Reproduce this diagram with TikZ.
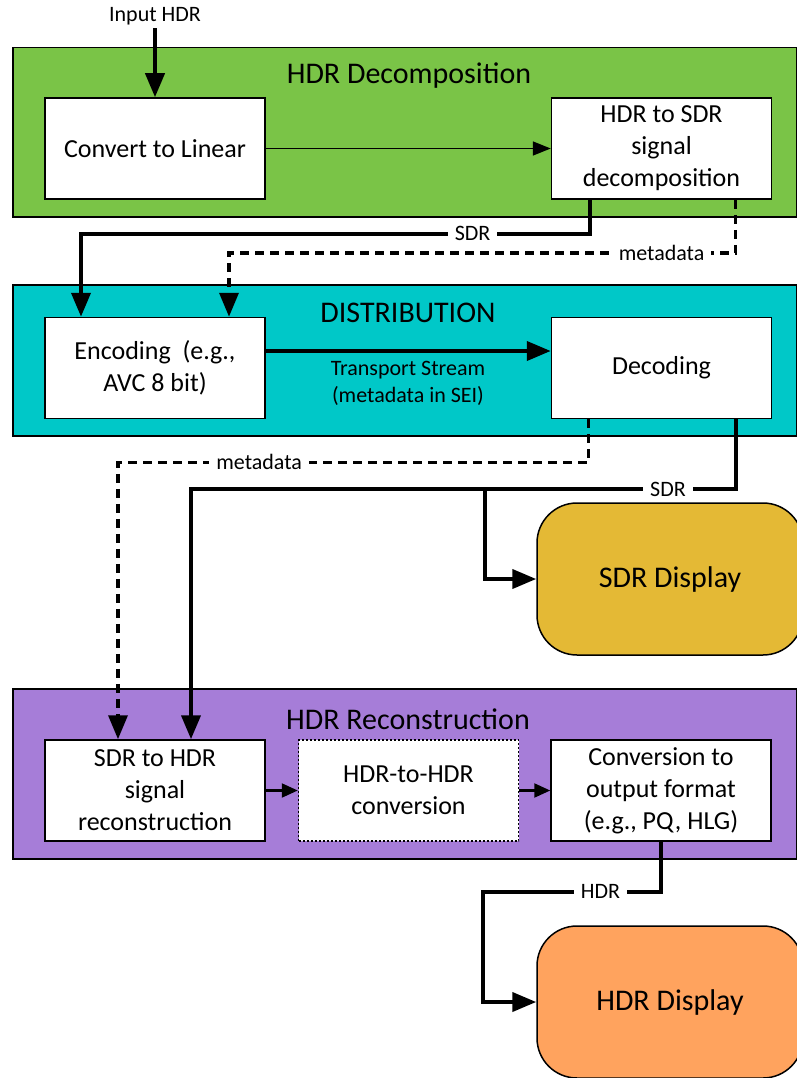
\documentclass[tikz,border=0pt]{standalone}
\usepackage{fontspec}
\setmainfont{Carlito}
\usetikzlibrary{arrows.meta,positioning,calc}
\definecolor{decgreen}{RGB}{122,196,71}
\definecolor{distcyan}{RGB}{0,200,200}
\definecolor{recpurple}{RGB}{166,125,216}
\definecolor{sdrgold}{RGB}{228,185,53}
\definecolor{hdrorange}{RGB}{255,163,94}
\begin{document}
\begin{tikzpicture}[x=1pt,y=-1pt,
  panel/.style={draw,line width=1.5pt,anchor=north west,minimum width=784pt,inner sep=0pt},
  ttl/.style={font=\fontsize{30}{36}\selectfont},
  box/.style={draw,fill=white,line width=1.5pt,minimum width=220pt,minimum height=101pt,align=center,inner sep=2pt,font=\fontsize{26}{32}\selectfont},
  disp/.style={draw,line width=1.5pt,rounded corners=40pt,minimum width=266pt,minimum height=152pt,font=\fontsize{30}{36}\selectfont},
  lbl/.style={fill=white,inner xsep=7pt,inner ysep=1pt,font=\fontsize{22}{27}\selectfont},
  thk/.style={line width=4pt,-{Triangle[length=24pt,width=19pt]}},
  dsh/.style={line width=3.5pt,dash pattern=on 9pt off 6pt,-{Triangle[length=24pt,width=19pt]}},
  thn/.style={line width=1.6pt,-{Triangle[length=18pt,width=14pt]}},
  sht/.style={line width=2.2pt,-{Triangle[length=16pt,width=14pt]}}]
  \useasboundingbox (0,0) rectangle (796,1078);
  % panels
  \node[panel,fill=decgreen,minimum height=169pt] (decp) at (12,47) {};
  \node[panel,fill=distcyan,minimum height=151pt] (distp) at (12,284) {};
  \node[panel,fill=recpurple,minimum height=170pt] (recp) at (12,688) {};
  \node[ttl] (dect) at (409,76) {HDR Decomposition};
  \node[ttl] (distt) at (408,313) {DISTRIBUTION};
  \node[ttl] (rect) at (408,719) {HDR Reconstruction};
  % blocks
  \node[box] (lin) at (155,148.5) {Convert to Linear};
  \node[box,right=285pt of lin] (h2s) {HDR to SDR\\signal\\decomposition};
  \node[box,below=117pt of lin] (enc) {Encoding~ (e.g.,\\AVC 8 bit)};
  \node[box,right=285pt of enc] (dec) {Decoding};
  \node[box,below=320pt of enc] (s2h) {SDR to HDR\\signal\\reconstruction};
  \node[box,dash pattern=on 2pt off 2pt,right=32pt of s2h] (h2h) {HDR-to-HDR\\conversion};
  \node[box,right=31pt of h2h] (conv) {Conversion to\\output format\\(e.g., PQ, HLG)};
  \node[disp,fill=sdrgold] (sdrd) at (670,579) {SDR Display};
  \node[disp,fill=hdrorange] (hdrd) at (670,1002) {HDR Display};
  \node[font=\fontsize{22}{27}\selectfont] (inp) at (155,16) {Input HDR};
  \node[align=center,font=\fontsize{22}{27}\selectfont] (ts) at (408,383) {Transport Stream\\(metadata in SEI)};
  % connectors
  \draw[thk] (inp.south) -- (lin.north);
  \draw[thn] (lin) -- (h2s);
  \draw[thk] ([xshift=-72pt]h2s.south) -- ++(0,34) -| node[lbl,pos=0.115] {SDR} ([xshift=-74pt]enc.north);
  \draw[dsh] ([xshift=74pt]h2s.south) -- ++(0,53) -| node[lbl,pos=0.073] {metadata} ([xshift=74pt]enc.north);
  \draw[thk] ([yshift=17pt]enc.east) -- ([yshift=17pt]dec.west);
  \draw[dsh] ([xshift=-73pt]dec.south) -- ++(0,43) -| node[lbl,pos=0.35] {metadata} ([xshift=-37pt]s2h.north);
  \draw[thk] ([xshift=74pt]dec.south) -- ++(0,70) -| node[lbl,pos=0.062] {SDR} coordinate[pos=0.2303] (br) ([xshift=36pt]s2h.north);
  \draw[thk] (br) |- (sdrd.west);
  \draw[sht] (s2h) -- (h2h);
  \draw[sht] (h2h) -- (conv);
  \draw[thk] (conv.south) -- ++(0,50) -| node[lbl,pos=0.17] {HDR} ([xshift=-53pt]hdrd.west) -- (hdrd.west);
\end{tikzpicture}
\end{document}
